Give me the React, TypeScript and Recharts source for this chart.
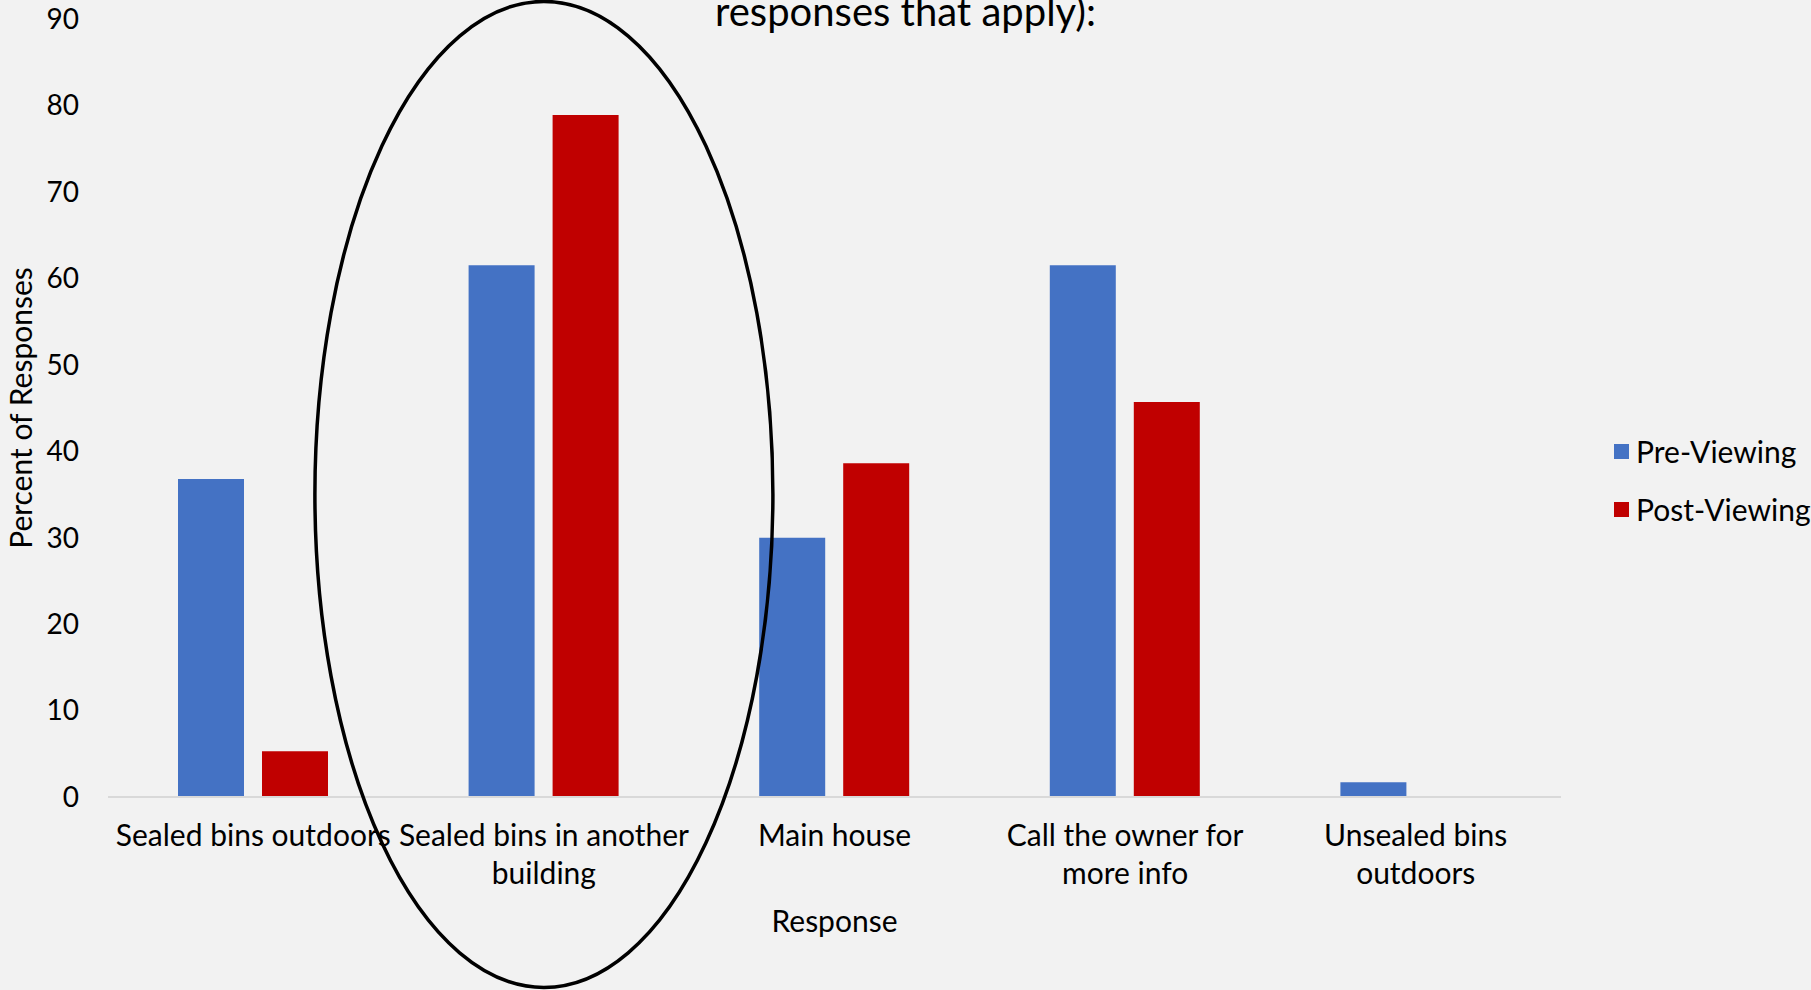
import { Bar, BarChart, Legend, ReferenceDot, XAxis, YAxis } from 'recharts'

// categories and values
const categories = [
    'Sealed bins outdoors',
    'Sealed bins in another building',
    'Main house',
    'Call the owner for more info',
    'Unsealed bins outdoors',
]
const tickLines = [
    ['Sealed bins outdoors'],
    ['Sealed bins in another', 'building'],
    ['Main house'],
    ['Call the owner for', 'more info'],
    ['Unsealed bins', 'outdoors'],
]
const seriesNames = ['Pre-Viewing', 'Post-Viewing']
const preViewing = [36.8, 61.5, 30.0, 61.5, 1.7]
const postViewing = [5.3, 78.9, 38.6, 45.7, 0]
const yTicks = [0, 10, 20, 30, 40, 50, 60, 70, 80, 90]

const FONT = 'Lato, "Open Sans", sans-serif'
const BLUE = '#4472C4'
const RED = '#C00000'

const data = categories.map((name, i) => ({
    name,
    pre: preViewing[i],
    post: postViewing[i],
}))

function CategoryTick({ x, y, payload }: any) {
    const lines = tickLines[categories.indexOf(payload.value)] ?? [payload.value]
    return (
        <text x={x} y={y} textAnchor='middle' fontFamily={FONT} fontSize={30} fill='#000'>
            {lines.map((l, i) => (
                <tspan key={i} x={x} dy={i === 0 ? 49 : 38}>
                    {l}
                </tspan>
            ))}
        </text>
    )
}

function YTitle({ viewBox }: any) {
    const cy = viewBox.y + viewBox.height / 2
    return (
        <text
            x={20}
            y={cy}
            transform={`rotate(-90 20 ${cy})`}
            textAnchor='middle'
            dominantBaseline='central'
            fontFamily={FONT}
            fontSize={30}
            fill='#000'
        >
            Percent of Responses
        </text>
    )
}

function LegendBox({ payload }: any) {
    const items = [...(payload ?? [])].sort(
        (a: any, b: any) => seriesNames.indexOf(a.value) - seriesNames.indexOf(b.value)
    )
    return (
        <div style={{ fontFamily: FONT, fontSize: 30, color: '#000' }}>
            {items.map((p: any) => (
                <div key={p.value} style={{ display: 'flex', alignItems: 'center', height: 58 }}>
                    <span style={{ width: 15, height: 15, background: p.color, marginRight: 7 }} />
                    {p.value}
                </div>
            ))}
        </div>
    )
}

export default function App() {
    return (
        <div
            style={{
                position: 'absolute',
                left: 0,
                top: 0,
                width: 1811,
                height: 990,
                background: '#f2f2f2',
                overflow: 'hidden',
            }}
        >
            <div
                style={{
                    position: 'absolute',
                    left: 0,
                    width: 1811,
                    top: -13,
                    textAlign: 'center',
                    fontFamily: FONT,
                    fontSize: 40,
                    color: '#000',
                    lineHeight: '48px',
                }}
            >
                responses that apply):
            </div>
            <BarChart
                width={1811}
                height={990}
                data={data}
                margin={{ top: 19, right: 50, left: 0, bottom: 0 }}
                barSize={66}
                barGap={18}
            >
                <XAxis
                    dataKey='name'
                    height={193}
                    axisLine={{ stroke: '#d9d9d9', strokeWidth: 2 }}
                    tickLine={false}
                    tickSize={0}
                    tickMargin={0}
                    interval={0}
                    tick={<CategoryTick />}
                    label={{
                        value: 'Response',
                        position: 'insideBottom',
                        offset: 58,
                        fontFamily: FONT,
                        fontSize: 30,
                        fill: '#000',
                    }}
                />
                <YAxis
                    width={108}
                    domain={[0, 90]}
                    ticks={yTicks}
                    axisLine={false}
                    tickLine={false}
                    tickSize={0}
                    tickMargin={29}
                    tick={{ fontFamily: FONT, fontSize: 28, fill: '#000' }}
                    label={<YTitle />}
                />
                <Legend
                    layout='horizontal'
                    verticalAlign='middle'
                    align='right'
                    wrapperStyle={{ left: 1614, top: 422, width: 200 }}
                    content={<LegendBox />}
                />
                <Bar dataKey='pre' name={seriesNames[0]} fill={BLUE} isAnimationActive={false} />
                <Bar dataKey='post' name={seriesNames[1]} fill={RED} isAnimationActive={false} />
                <ReferenceDot
                    x={categories[1]}
                    y={35}
                    ifOverflow='visible'
                    shape={(p: any) => (
                        <ellipse
                            cx={p.cx}
                            cy={p.cy}
                            rx={229}
                            ry={493}
                            fill='none'
                            stroke='#000'
                            strokeWidth={3.5}
                        />
                    )}
                />
            </BarChart>
        </div>
    )
}
